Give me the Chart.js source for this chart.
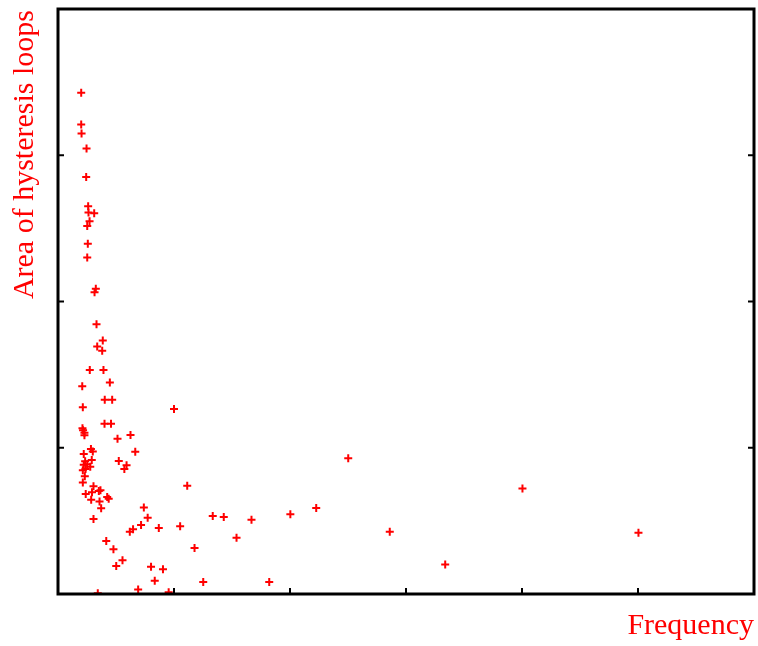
<!DOCTYPE html>
<html>
<head>
<meta charset="utf-8">
<script src="https://cdn.jsdelivr.net/npm/chart.js@4.4.1/dist/chart.umd.min.js"></script>
<style>
  html, body { margin: 0; padding: 0; background: #fff; }
  #wrap { width: 758px; height: 646px; }
</style>
</head>
<body>
<div id="wrap"><canvas id="hyst" width="758" height="646"></canvas></div>
<script>
// frequency values (x) and loop areas (y)
const freq = [
  0.200, 0.200, 0.203, 0.246, 0.243, 0.260, 0.263, 0.312, 0.272, 0.252,
  0.257, 0.252, 0.326, 0.315, 0.332, 0.386, 0.338, 0.381, 0.274, 0.392,
  0.447, 0.209, 0.403, 0.467, 0.214, 1.000, 0.401, 0.457, 0.211, 0.216,
  0.228, 0.228, 0.513, 0.625, 0.666, 0.284, 0.300, 0.222, 0.234, 0.291,
  0.222, 0.252, 0.278, 0.214, 0.237, 0.231, 0.214, 0.524, 0.591, 0.572,
  0.306, 0.352, 0.366, 0.293, 0.239, 0.286, 0.358, 0.424, 0.437, 0.372,
  0.306, 0.740, 0.773, 0.716, 0.647, 0.619, 0.869, 1.053, 0.416, 0.478,
  0.556, 0.502, 0.802, 0.905, 0.834, 0.343, 0.691, 0.954, 2.502, 1.114,
  1.334, 1.429, 1.668, 2.003, 2.226, 1.539, 1.177, 1.252, 1.821, 2.860,
  3.338, 4.004, 5.004
];
const area = [
  3.427, 3.210, 3.149, 3.046, 2.851, 2.651, 2.608, 2.603, 2.548, 2.516,
  2.395, 2.301, 2.087, 2.064, 1.845, 1.733, 1.692, 1.664, 1.532, 1.532,
  1.447, 1.420, 1.329, 1.329, 1.277, 1.265, 1.164, 1.164, 1.134, 1.120,
  1.103, 1.086, 1.062, 1.087, 0.973, 0.991, 0.975, 0.957, 0.908, 0.916,
  0.884, 0.887, 0.870, 0.847, 0.854, 0.805, 0.762, 0.909, 0.880, 0.854,
  0.736, 0.705, 0.710, 0.695, 0.683, 0.644, 0.632, 0.664, 0.652, 0.587,
  0.512, 0.591, 0.522, 0.471, 0.442, 0.425, 0.452, 0.464, 0.363, 0.306,
  0.231, 0.192, 0.187, 0.170, 0.090, 0.005, 0.031, 0.012, 0.928, 0.740,
  0.534, 0.527, 0.507, 0.545, 0.588, 0.384, 0.315, 0.082, 0.082, 0.425,
  0.201, 0.721, 0.418
];
const xTicks = [1, 2, 3, 4, 5];
const yTicks = [1, 2, 3];
const xTitle = 'Frequency';
const yTitle = 'Area of hysteresis loops';

const points = freq.map((f, i) => ({ x: f, y: area[i] }));

// frame, inward ticks and axis titles (gnuplot look)
const frameAndLabels = {
  id: 'frameAndLabels',
  afterDatasetsDraw(chart) {
    const { ctx, chartArea: { left, right, top, bottom } } = chart;
    const xs = chart.scales.x, ys = chart.scales.y;
    ctx.save();
    ctx.strokeStyle = '#000';
    ctx.lineWidth = 2;
    xTicks.forEach(v => {
      const px = xs.getPixelForValue(v);
      ctx.beginPath(); ctx.moveTo(px, bottom); ctx.lineTo(px, bottom - 6); ctx.stroke();
    });
    yTicks.forEach(v => {
      const py = ys.getPixelForValue(v);
      ctx.beginPath(); ctx.moveTo(left, py); ctx.lineTo(left + 6, py); ctx.stroke();
      ctx.beginPath(); ctx.moveTo(right, py); ctx.lineTo(right - 6, py); ctx.stroke();
    });
    ctx.lineWidth = 3;
    ctx.strokeRect(left, top, right - left, bottom - top);

    ctx.fillStyle = '#ff0000';
    ctx.font = '30px "Liberation Serif", "Times New Roman", serif';
    ctx.textAlign = 'right';
    ctx.textBaseline = 'alphabetic';
    ctx.fillText(xTitle, right, 634);
    ctx.translate(33, top + 1);
    ctx.rotate(-Math.PI / 2);
    ctx.textAlign = 'right';
    ctx.fillText(yTitle, 0, 0);
    ctx.restore();
  }
};

new Chart(document.getElementById('hyst'), {
  type: 'scatter',
  data: {
    datasets: [{
      label: 'loops',
      data: points,
      pointStyle: 'cross',
      pointRadius: 4,
      pointBorderWidth: 2,
      borderColor: '#ff0000',
      backgroundColor: '#ff0000'
    }]
  },
  options: {
    responsive: false,
    animation: false,
    layout: { autoPadding: false, padding: { left: 58, top: 9, right: 4, bottom: 52 } },
    scales: {
      x: { type: 'linear', min: 0, max: 6, display: false },
      y: { type: 'linear', min: 0, max: 4, display: false }
    },
    plugins: {
      legend: { display: false },
      tooltip: { enabled: false }
    }
  },
  plugins: [frameAndLabels]
});
</script>
</body>
</html>
